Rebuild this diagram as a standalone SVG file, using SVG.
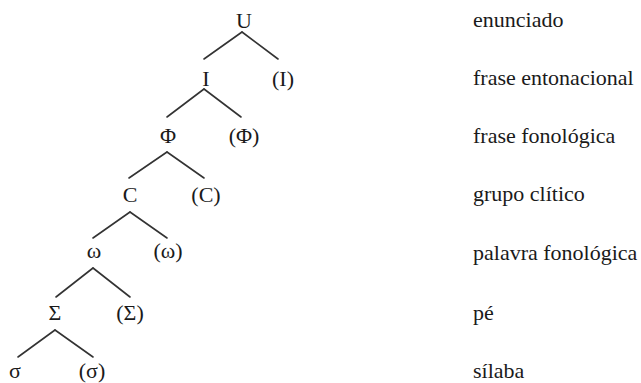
<svg xmlns="http://www.w3.org/2000/svg" width="641" height="383" viewBox="0 0 641 383" font-family="Liberation Serif" font-size="22">
<style>
text{fill:#1a1a1a}
.n{text-anchor:middle}
.e line{stroke:#333;stroke-width:1.6;stroke-linecap:round}
</style>
<rect width="641" height="383" fill="#fff"/>
<g class="e" id="connectors">
<line x1="242" y1="32" x2="204" y2="59"/><line x1="242" y1="32" x2="278" y2="59"/>
<line x1="204" y1="89" x2="167" y2="117"/><line x1="204" y1="89" x2="241" y2="117"/>
<line x1="167" y1="152" x2="129" y2="178"/><line x1="167" y1="152" x2="204" y2="178"/>
<line x1="130" y1="212" x2="93" y2="238"/><line x1="130" y1="212" x2="167" y2="238"/>
<line x1="93" y1="268" x2="56" y2="297"/><line x1="93" y1="268" x2="130" y2="297"/>
<line x1="55" y1="330" x2="18" y2="357"/><line x1="55" y1="330" x2="93" y2="357"/>
</g>
<g id="U"><text class="n" x="244" y="28">U</text></g>
<g id="I"><text class="n" x="206" y="86">I</text></g>
<g id="Iopt"><text class="n" x="283" y="86">(I)</text></g>
<g id="Phi"><text class="n" x="168" y="143">Φ</text></g>
<g id="Phiopt"><text class="n" x="244" y="143">(Φ)</text></g>
<g id="C"><text class="n" x="130" y="202">C</text></g>
<g id="Copt"><text class="n" x="206" y="202">(C)</text></g>
<g id="omega"><text class="n" x="94" y="258">ω</text></g>
<g id="omegaopt"><text class="n" x="168" y="258">(ω)</text></g>
<g id="Sigma"><text class="n" x="55" y="320">Σ</text></g>
<g id="Sigmaopt"><text class="n" x="130" y="320">(Σ)</text></g>
<g id="sigma"><text class="n" x="15" y="378">σ</text></g>
<g id="sigmaopt"><text class="n" x="92" y="378">(σ)</text></g>
<g id="labels">
<text x="473" y="27">enunciado</text>
<text x="473" y="85">frase entonacional</text>
<text x="473" y="143">frase fonológica</text>
<text x="473" y="201">grupo clítico</text>
<text x="473" y="260">palavra fonológica</text>
<text x="473" y="320">pé</text>
<text x="473" y="378">sílaba</text>
</g>
</svg>
